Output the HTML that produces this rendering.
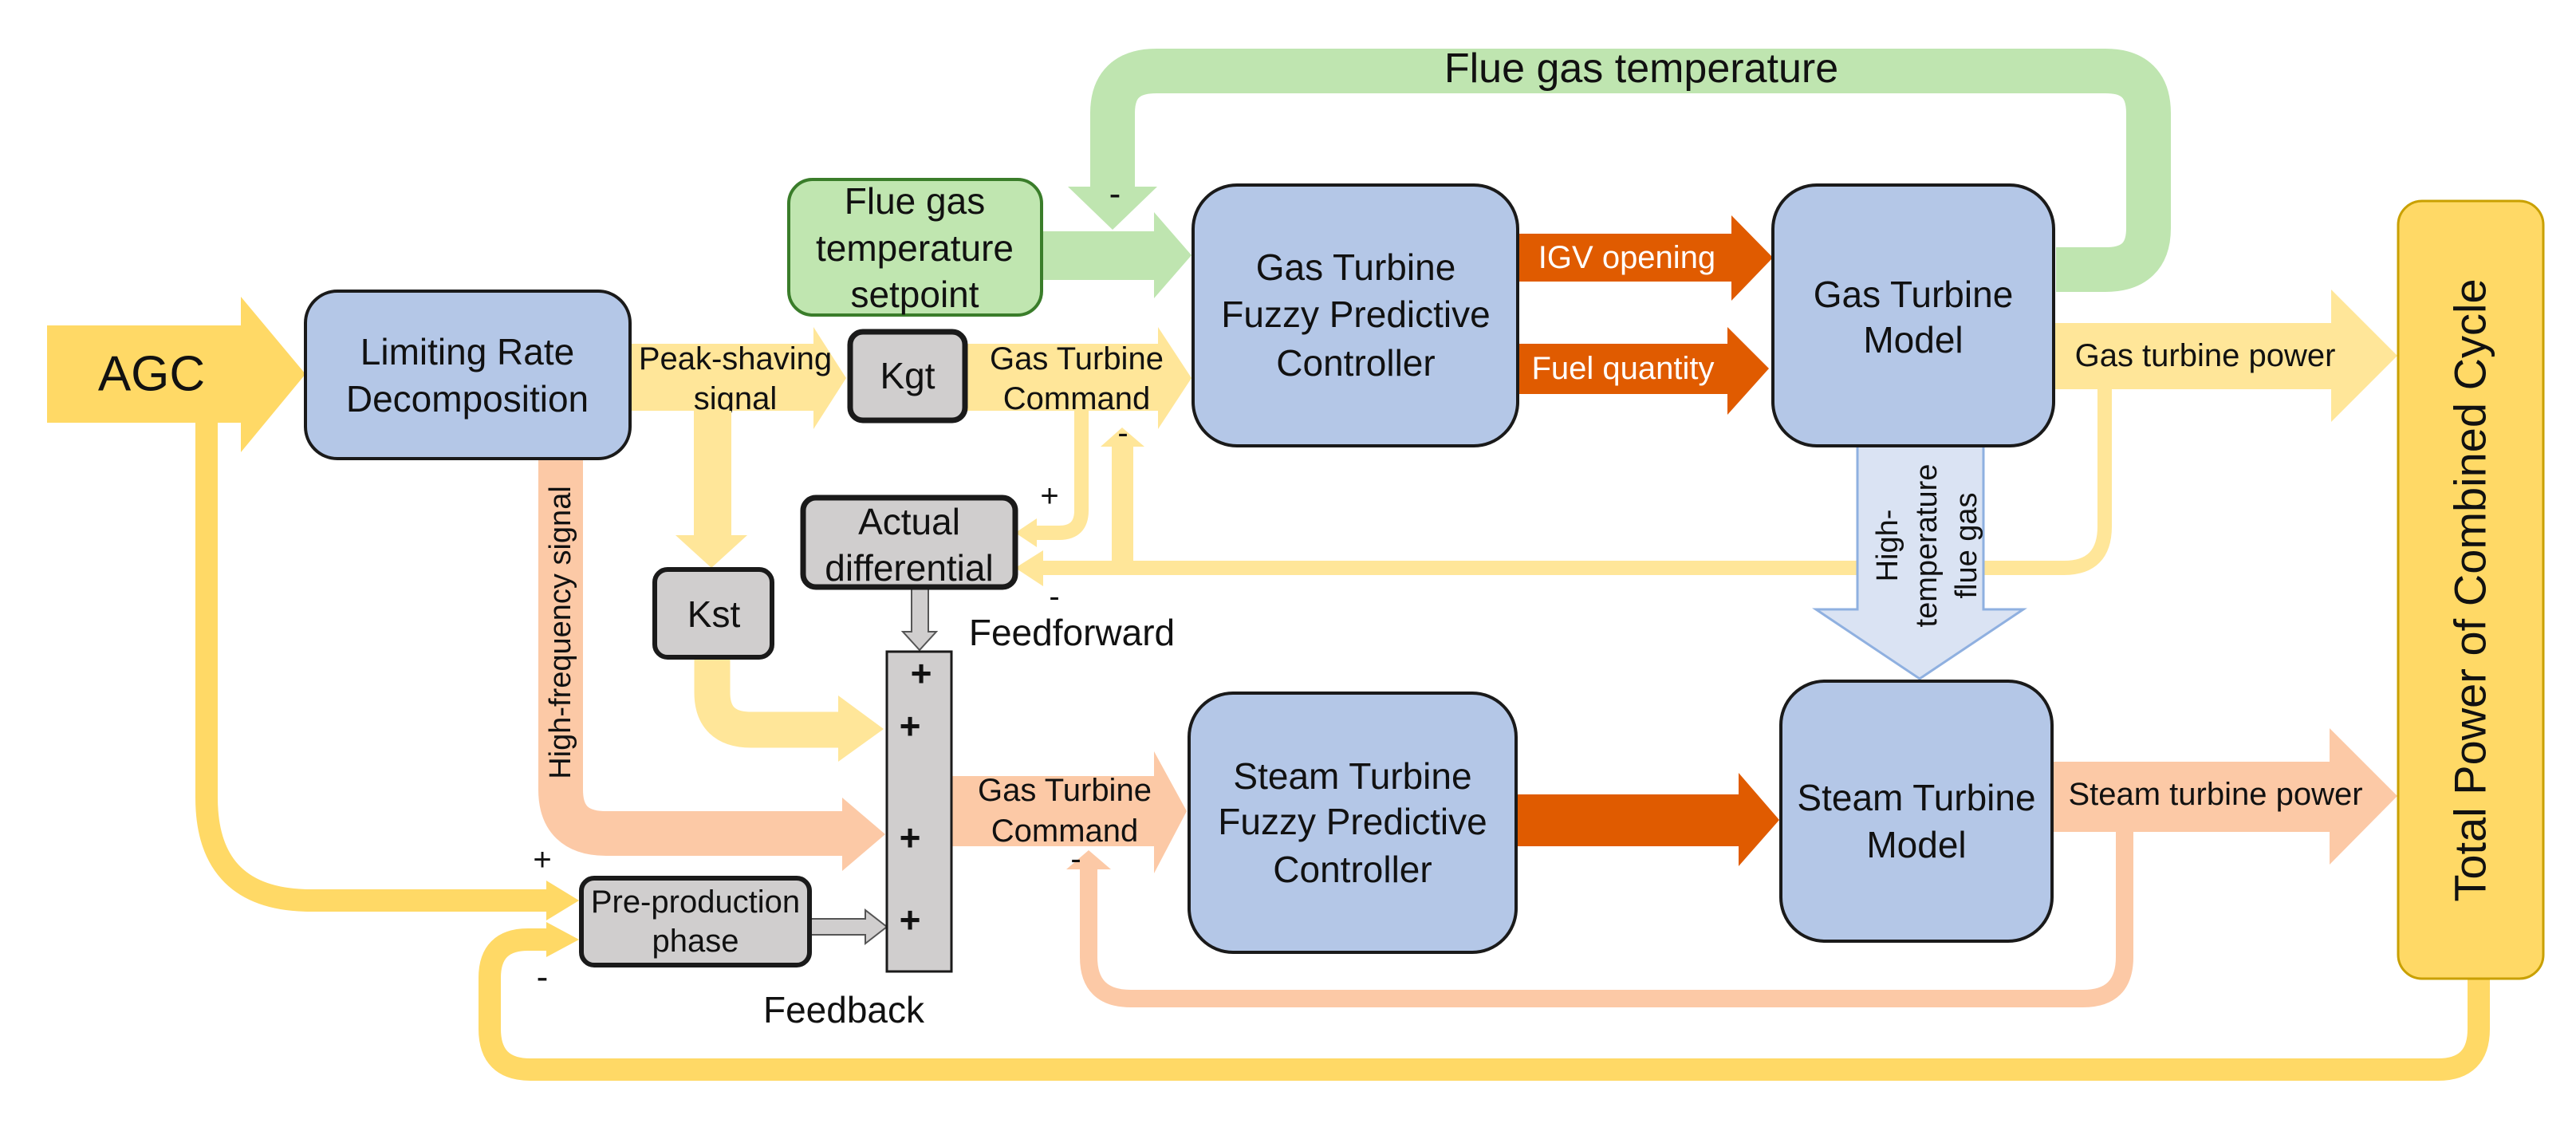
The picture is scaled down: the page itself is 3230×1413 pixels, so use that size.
<!DOCTYPE html>
<html><head><meta charset="utf-8"><style>
html,body{margin:0;padding:0;background:#fff;}
svg{display:block;}
text{font-family:"Liberation Sans",Arial,sans-serif;fill:#111;}
</style></head><body>
<svg width="3230" height="1413" viewBox="0 0 3230 1413" xmlns="http://www.w3.org/2000/svg">
<rect width="3230" height="1413" fill="#fff"/>
<!-- green loop -->
<path d="M2578 338 H2640 Q2694 338 2694 286 V142 Q2694 89 2640 89 H1450 Q1395 89 1395 142 V236" fill="none" stroke="#bfe5b0" stroke-width="56"/>
<polygon points="1339,234 1451,234 1395,288" fill="#bfe5b0"/>
<text x="2058" y="86" font-size="52" text-anchor="middle" dominant-baseline="central">Flue gas temperature</text>
<text x="1398" y="243" font-size="44" text-anchor="middle" dominant-baseline="central">-</text>
<polygon points="1306,290 1447,290 1447,266 1494,320 1447,374 1447,351 1306,351" fill="#bfe5b0"/>

<!-- yellow thin loops -->
<path d="M2639 488 V660 Q2639 712 2588 712 H1305" fill="none" stroke="#ffe699" stroke-width="18"/>
<polygon points="1308,690 1273,712 1308,735" fill="#ffe699"/>
<path d="M1356 515 V640 Q1356 668 1328 668 H1298" fill="none" stroke="#ffe699" stroke-width="18"/>
<polygon points="1300,650 1273,668 1300,686" fill="#ffe699"/>
<rect x="1394" y="558" width="27" height="154" fill="#ffe699"/>
<polygon points="1380,560 1435,560 1407,536" fill="#ffe699"/>
<text x="1408" y="543" font-size="40" text-anchor="middle" dominant-baseline="central">-</text>
<text x="1316" y="622" font-size="40" text-anchor="middle" dominant-baseline="central">+</text>
<text x="1322" y="748" font-size="40" text-anchor="middle" dominant-baseline="central">-</text>

<!-- AGC -->
<polygon points="59,408 302,408 302,372 383,469 302,567 302,530 59,530" fill="#ffd966"/>
<text x="190" y="469" font-size="62" text-anchor="middle" dominant-baseline="central">AGC</text>
<path d="M259 528 V1000 Q259 1129 390 1129 H690" fill="none" stroke="#ffd966" stroke-width="28"/>
<polygon points="685,1104 726,1129 685,1154" fill="#ffd966"/>
<path d="M3108 1225 V1290 Q3108 1341 3057 1341 H665 Q614 1341 614 1290 V1226 Q614 1178 662 1178 H690" fill="none" stroke="#ffd966" stroke-width="28"/>
<polygon points="685,1156 726,1178 685,1200" fill="#ffd966"/>
<text x="680" y="1078" font-size="40" text-anchor="middle" dominant-baseline="central">+</text>
<text x="680" y="1225" font-size="44" text-anchor="middle" dominant-baseline="central">-</text>

<!-- peak shaving & commands -->
<polygon points="790,431 1020,431 1020,410 1061,474 1020,538 1020,515 790,515" fill="#ffe699"/>
<text x="922" y="450" font-size="40" text-anchor="middle" dominant-baseline="central">Peak-shaving</text>
<text x="922" y="500" font-size="40" text-anchor="middle" dominant-baseline="central">signal</text>
<polygon points="1210,431 1452,431 1452,410 1494,474 1452,538 1452,515 1210,515" fill="#ffe699"/>
<text x="1350" y="450" font-size="40" text-anchor="middle" dominant-baseline="central">Gas Turbine</text>
<text x="1350" y="500" font-size="40" text-anchor="middle" dominant-baseline="central">Command</text>
<rect x="870" y="515" width="47" height="158" fill="#ffe699"/>
<polygon points="847,671 937,671 892,712" fill="#ffe699"/>
<path d="M893 824 V868 Q893 915 942 915 H1055" fill="none" stroke="#ffe699" stroke-width="45"/>
<polygon points="1051,872 1108,914 1051,955" fill="#ffe699"/>

<!-- high frequency -->
<path d="M703 575 V990 Q703 1045 760 1045 H1058" fill="none" stroke="#fcc9a6" stroke-width="56"/>
<polygon points="1056,1000 1110,1046 1056,1092" fill="#fcc9a6"/>
<text x="703" y="793" font-size="38" text-anchor="middle" dominant-baseline="central" transform="rotate(-90 703 793)">High-frequency signal</text>

<!-- orange GT command & feedback -->
<polygon points="1193,973 1447,973 1447,942 1488,1017 1447,1095 1447,1061 1193,1061" fill="#fcc9a6"/>
<text x="1335" y="991" font-size="40" text-anchor="middle" dominant-baseline="central">Gas Turbine</text>
<text x="1335" y="1042" font-size="40" text-anchor="middle" dominant-baseline="central">Command</text>
<path d="M2664 1043 V1200 Q2664 1252 2612 1252 H1418 Q1365 1252 1365 1200 V1088" fill="none" stroke="#fcc9a6" stroke-width="22"/>
<polygon points="1337,1090 1393,1090 1365,1066" fill="#fcc9a6"/>
<text x="1349" y="1077" font-size="40" text-anchor="middle" dominant-baseline="central">-</text>

<!-- dark orange -->
<polygon points="1903,293 2171,293 2171,270 2223,323 2171,377 2171,353 1903,353" fill="#e05b00"/>
<text x="2040" y="323" font-size="40" style="fill:#fff" text-anchor="middle" dominant-baseline="central">IGV opening</text>
<polygon points="1903,431 2166,431 2166,410 2218,462 2166,520 2166,494 1903,494" fill="#e05b00"/>
<text x="2035" y="462" font-size="40" style="fill:#fff" text-anchor="middle" dominant-baseline="central">Fuel quantity</text>
<polygon points="1901,996 2180,996 2180,969 2231,1028 2180,1086 2180,1061 1901,1061" fill="#e05b00"/>

<!-- power arrows -->
<polygon points="2575,405 2923,405 2923,363 3006,446 2923,529 2923,488 2575,488" fill="#ffe699"/>
<text x="2765" y="446" font-size="40" text-anchor="middle" dominant-baseline="central">Gas turbine power</text>
<polygon points="2573,955 2921,955 2921,913 3006,998 2921,1084 2921,1043 2573,1043" fill="#fcc9a6"/>
<text x="2778" y="996" font-size="40" text-anchor="middle" dominant-baseline="central">Steam turbine power</text>

<!-- high temp flue gas -->
<polygon points="2329,559 2487,559 2487,764 2537,764 2407,851 2277,764 2329,764" fill="#dae3f3" stroke="#8fb0e0" stroke-width="3"/>
<g font-size="38" text-anchor="middle" dominant-baseline="central">
<text x="2367" y="684" transform="rotate(-90 2367 684)" dominant-baseline="central">High-</text>
<text x="2416" y="684" transform="rotate(-90 2416 684)" dominant-baseline="central">temperature</text>
<text x="2466" y="684" transform="rotate(-90 2466 684)" dominant-baseline="central">flue gas</text>
</g>

<!-- gray arrows -->
<polygon points="1143,736 1164,736 1164,792 1174,792 1153,815 1132,792 1143,792" fill="#d0cece" stroke="#555" stroke-width="2"/>
<polygon points="1015,1152 1085,1152 1085,1141 1112,1162 1085,1183 1085,1172 1015,1172" fill="#d0cece" stroke="#555" stroke-width="2"/>

<!-- boxes -->
<g stroke="#1a1a1a" stroke-width="4">
<rect x="383" y="365" width="407" height="210" rx="40" fill="#b4c7e7"/>
<rect x="989" y="225" width="317" height="170" rx="30" fill="#c0e6b0" stroke="#3a7d2a"/>
<rect x="1496" y="232" width="407" height="327" rx="55" fill="#b4c7e7"/>
<rect x="2223" y="232" width="352" height="327" rx="55" fill="#b4c7e7"/>
<rect x="1491" y="869" width="410" height="325" rx="55" fill="#b4c7e7"/>
<rect x="2233" y="854" width="340" height="326" rx="55" fill="#b4c7e7"/>
<rect x="3007" y="252" width="182" height="975" rx="30" fill="#ffd966" stroke="#c9a000" stroke-width="3"/>
<rect x="1066" y="416" width="144" height="111" rx="16" fill="#d0cece" stroke-width="7"/>
<rect x="821" y="714" width="147" height="110" rx="16" fill="#d0cece" stroke-width="6"/>
<rect x="1007" y="624" width="266" height="112" rx="16" fill="#d0cece" stroke-width="7"/>
<rect x="729" y="1101" width="286" height="109" rx="16" fill="#d0cece" stroke-width="6"/>
<rect x="1112" y="817" width="81" height="401" fill="#d0cece" stroke-width="3"/>
</g>

<g font-size="46" text-anchor="middle" dominant-baseline="central">
<text x="586" y="441" dominant-baseline="central">Limiting Rate</text>
<text x="586" y="500" dominant-baseline="central">Decomposition</text>
<text x="1147" y="252" dominant-baseline="central">Flue gas</text>
<text x="1147" y="311" dominant-baseline="central">temperature</text>
<text x="1147" y="369" dominant-baseline="central">setpoint</text>
<text x="1700" y="335" dominant-baseline="central">Gas Turbine</text>
<text x="1700" y="394" dominant-baseline="central">Fuzzy Predictive</text>
<text x="1700" y="455" dominant-baseline="central">Controller</text>
<text x="2399" y="369" dominant-baseline="central">Gas Turbine</text>
<text x="2399" y="426" dominant-baseline="central">Model</text>
<text x="1696" y="973" dominant-baseline="central">Steam Turbine</text>
<text x="1696" y="1030" dominant-baseline="central">Fuzzy Predictive</text>
<text x="1696" y="1090" dominant-baseline="central">Controller</text>
<text x="2403" y="1000" dominant-baseline="central">Steam Turbine</text>
<text x="2403" y="1059" dominant-baseline="central">Model</text>
<text x="1138" y="471" dominant-baseline="central">Kgt</text>
<text x="895" y="770" dominant-baseline="central">Kst</text>
<text x="1140" y="654" dominant-baseline="central">Actual</text>
<text x="1140" y="712" dominant-baseline="central">differential</text>
<text x="1344" y="793" dominant-baseline="central">Feedforward</text>
<text x="1058" y="1266" dominant-baseline="central">Feedback</text>
</g>
<g font-size="40" text-anchor="middle" dominant-baseline="central">
<text x="872" y="1131" dominant-baseline="central">Pre-production</text>
<text x="872" y="1180" dominant-baseline="central">phase</text>
</g>
<g font-size="46" font-weight="bold" text-anchor="middle" dominant-baseline="central">
<text x="1155" y="844" dominant-baseline="central">+</text>
<text x="1141" y="910" dominant-baseline="central">+</text>
<text x="1141" y="1050" dominant-baseline="central">+</text>
<text x="1141" y="1153" dominant-baseline="central">+</text>
</g>
<text x="3097" y="740" font-size="56" text-anchor="middle" dominant-baseline="central" transform="rotate(-90 3097 740)">Total Power of Combined Cycle</text>
</svg>
</body></html>
